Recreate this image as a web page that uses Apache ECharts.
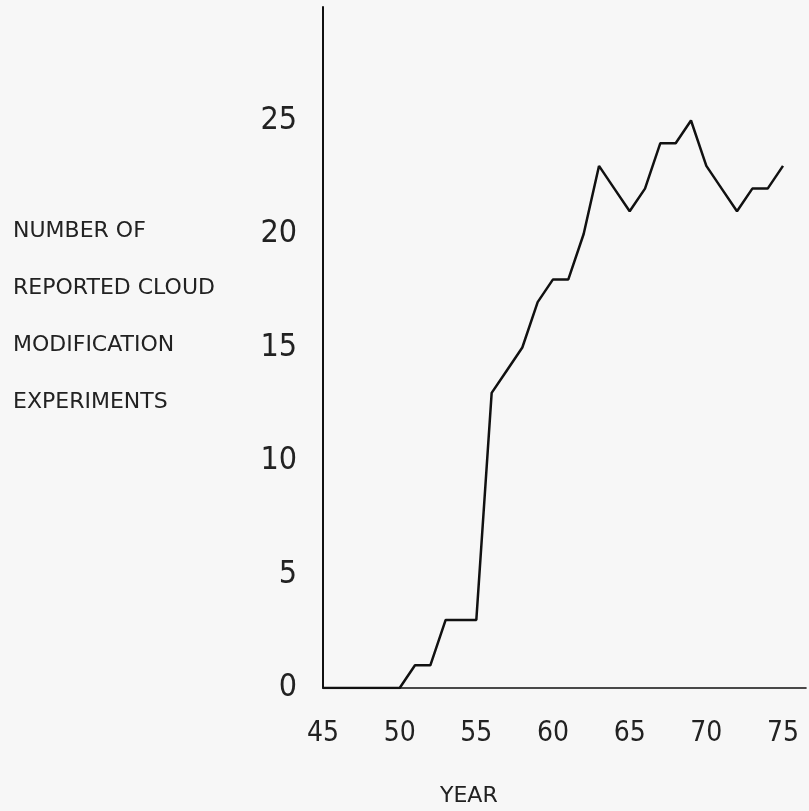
<!DOCTYPE html>
<html>
<head>
<meta charset="utf-8">
<script src="https://cdn.jsdelivr.net/npm/echarts@6/dist/echarts.min.js"></script>
<style>
html,body{margin:0;padding:0;background:#f7f7f7;}
#c{width:809px;height:811px;}
</style>
</head>
<body>
<div id="c"></div>
<script>
var years = [45,46,47,48,49,50,51,52,53,54,55,56,57,58,59,60,61,62,63,64,65,66,67,68,69,70,71,72,73,74,75];
var experiments = [0,0,0,0,0,0,1,1,3,3,3,13,14,15,17,18,18,20,23,22,21,22,24,24,25,23,22,21,22,22,23];
var yTitleLines = ['NUMBER OF', 'REPORTED CLOUD', 'MODIFICATION', 'EXPERIMENTS'];
var xTitle = 'YEAR';

var FONT = "'Liberation Sans Narrow','DejaVu Sans Condensed','DejaVu Sans',sans-serif";
var WIDE = "'DejaVu Sans',Verdana,sans-serif";

var chart = echarts.init(document.getElementById('c'), null, {renderer:'canvas'});
var data = years.map(function(y,i){ return [y, experiments[i]]; });

chart.setOption({
  backgroundColor: '#f7f7f7',
  animation: false,
  grid: {left: 323, right: 0, top: 7, bottom: 123},
  xAxis: {
    type: 'value', min: 45, max: 76.5, interval: 5,
    axisLine: {show: true, onZero: false, lineStyle: {color: '#111', width: 1.6}},
    axisTick: {show: false},
    splitLine: {show: false},
    axisLabel: {
      margin: 32, color: '#222', fontSize: 28, fontFamily: FONT,
      formatter: function(v){ return (v % 5 === 0) ? String(v) : ''; }
    }
  },
  yAxis: {
    type: 'value', min: 0, max: 30, interval: 5,
    axisLine: {show: true, lineStyle: {color: '#111', width: 2}},
    axisTick: {show: false},
    splitLine: {show: false},
    axisLabel: {
      margin: 26, color: '#222', fontSize: 32, fontFamily: FONT,
      formatter: function(v){ return v >= 30 ? '' : String(v); }
    }
  },
  graphic: yTitleLines.map(function(t, i){
    return {type:'text', left: 13, top: 220 + i*57, style:{text: t, fill:'#222', font: '22px ' + WIDE}};
  }).concat([
    {type:'text', left: 440, top: 785, style:{text: xTitle, fill:'#222', font: '22px ' + WIDE}}
  ]),
  series: [{
    type: 'line',
    data: data,
    showSymbol: false,
    lineStyle: {color: '#111', width: 2.5},
    itemStyle: {color: '#111'}
  }]
});
</script>
</body>
</html>
